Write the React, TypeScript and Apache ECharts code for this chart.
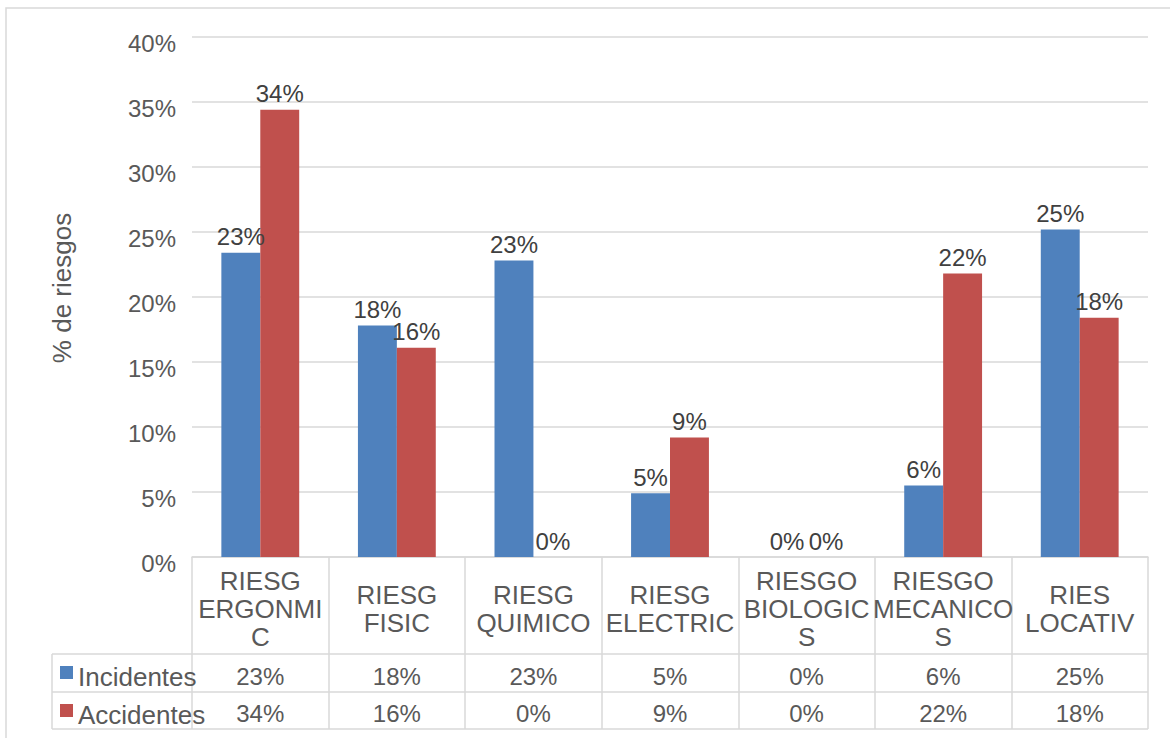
import React, { useEffect, useRef } from "react";
import * as echarts from "echarts";

// Risk categories (line breaks as they wrap in the table header)
const categories = [
  "RIESG\nERGONMI\nC",
  "RIESG\nFISIC",
  "RIESG\nQUIMICO",
  "RIESG\nELECTRIC",
  "RIESGO\nBIOLOGIC\nS",
  "RIESGO\nMECANICO\nS",
  "RIES\nLOCATIV",
];

// Share of risks, in percent
const incidentes = [23.4, 17.8, 22.8, 4.9, 0, 5.5, 25.2];
const accidentes = [34.4, 16.1, 0, 9.2, 0, 21.8, 18.4];

const seriesNames = ["Incidentes", "Accidentes"];
const yTicks = { min: 0, max: 40, interval: 5 };

const BLUE = "#4F81BD";
const RED = "#C0504D";
const GRID_LINE = "#D9D9D9";
const TEXT = "#595959";
const LABEL = "#404040";
const FONT = "'Liberation Sans', Arial, sans-serif";

const W = 1170;
const H = 738;
// plot area
const G_LEFT = 192;
const G_RIGHT = 1148;
const G_TOP = 37;
const G_BOTTOM = 557;
// data table rows below the plot
const TABLE_LEFT = 52;
const ROW1 = 654;
const ROW2 = 692;
const ROW3 = 729;

const pct = (v: number) => `${Math.round(v)}%`;

export default function App() {
  const ref = useRef<HTMLDivElement>(null);

  useEffect(() => {
    document.body.style.margin = "0";
    if (!ref.current) return;
    const chart = echarts.init(ref.current, undefined, { renderer: "svg" });

    const rowAxis = (values: number[], margin: number) => ({
      type: "category",
      data: categories,
      position: "bottom",
      gridIndex: 0,
      axisLine: { show: false },
      axisTick: { show: false },
      splitLine: { show: false },
      axisLabel: {
        interval: 0,
        margin,
        verticalAlign: "middle",
        fontSize: 24,
        fontFamily: FONT,
        color: TEXT,
        formatter: (_: string, i: number) => pct(values[i]),
      },
    });

    const line = (x1: number, y1: number, x2: number, y2: number) => ({
      type: "line",
      shape: { x1, y1, x2, y2 },
      style: { stroke: GRID_LINE, lineWidth: 1.5 },
      silent: true,
    });

    // one legend per table row, sitting in the row's first cell
    const rowLegend = (name: string, rowTop: number) => ({
      orient: "vertical",
      left: 60,
      top: rowTop + 1,
      padding: 0,
      itemWidth: 13,
      itemHeight: 13,
      icon: "rect",
      data: [name],
      formatter: (n: string) => `{t|${n}}`,
      textStyle: {
        rich: {
          t: {
            fontSize: 26,
            fontFamily: FONT,
            color: TEXT,
            lineHeight: 26,
            padding: [9, 0, 0, 0],
          },
        },
      },
    });

    const barLabel = {
      show: true,
      position: "top",
      distance: 4,
      fontSize: 24,
      fontFamily: FONT,
      color: LABEL,
      formatter: (p: any) => pct(p.value),
    };

    chart.setOption({
      animation: false,
      backgroundColor: "#ffffff",
      textStyle: { fontFamily: FONT },
      grid: {
        left: G_LEFT,
        right: W - G_RIGHT,
        top: G_TOP,
        bottom: H - G_BOTTOM,
        containLabel: false,
        outerBoundsMode: "none",
      },
      legend: [rowLegend(seriesNames[0], ROW1), rowLegend(seriesNames[1], ROW2)],
      xAxis: [
        {
          type: "category",
          data: categories,
          position: "bottom",
          axisLine: { show: true, lineStyle: { color: GRID_LINE, width: 1.5 } },
          axisTick: {
            show: true,
            length: ROW3 - G_BOTTOM,
            lineStyle: { color: GRID_LINE, width: 1.5 },
          },
          axisLabel: {
            interval: 0,
            margin: 52,
            verticalAlign: "middle",
            fontSize: 26,
            lineHeight: 28,
            fontFamily: FONT,
            color: TEXT,
          },
        },
        rowAxis(incidentes, 119),
        rowAxis(accidentes, 156),
      ],
      yAxis: {
        type: "value",
        min: yTicks.min,
        max: yTicks.max,
        interval: yTicks.interval,
        name: "% de riesgos",
        nameLocation: "middle",
        nameRotate: 90,
        nameGap: 117,
        nameTextStyle: {
          fontSize: 26,
          fontFamily: FONT,
          color: TEXT,
          padding: [0, 0, 0, 18],
        },
        axisLine: { show: false },
        axisTick: { show: false },
        splitLine: { lineStyle: { color: GRID_LINE, width: 1.5 } },
        axisLabel: {
          margin: 16,
          verticalAlign: "middle",
          formatter: (v: number) => `{t|${v}%}`,
          rich: {
            t: {
              fontSize: 24,
              fontFamily: FONT,
              color: TEXT,
              padding: [13, 0, 0, 0],
            },
          },
        },
      },
      series: [
        {
          name: seriesNames[0],
          type: "bar",
          data: incidentes,
          xAxisIndex: 0,
          barGap: "0%",
          barCategoryGap: "43%",
          itemStyle: { color: BLUE },
          label: barLabel,
        },
        {
          name: seriesNames[1],
          type: "bar",
          data: accidentes,
          xAxisIndex: 0,
          barGap: "0%",
          barCategoryGap: "43%",
          itemStyle: { color: RED },
          label: barLabel,
        },
      ],
      graphic: [
        {
          type: "rect",
          shape: { x: 6, y: 8, width: W + 20, height: H + 20 },
          style: { fill: "none", stroke: GRID_LINE, lineWidth: 1.5 },
          silent: true,
        },
        line(TABLE_LEFT, ROW1, G_RIGHT, ROW1),
        line(TABLE_LEFT, ROW2, G_RIGHT, ROW2),
        line(TABLE_LEFT, ROW3, G_RIGHT, ROW3),
        line(TABLE_LEFT, ROW1, TABLE_LEFT, ROW3),
      ],
    });

    return () => chart.dispose();
  }, []);

  return <div ref={ref} style={{ width: W, height: H }} />;
}
